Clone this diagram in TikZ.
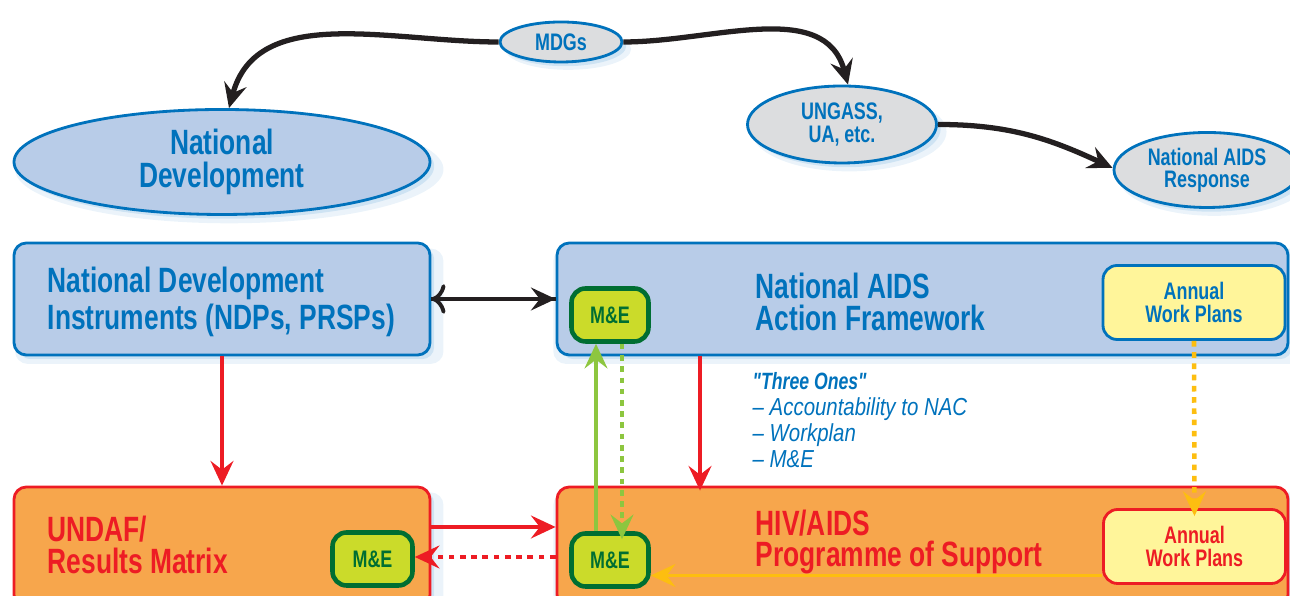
\documentclass[tikz,border=0pt]{standalone}
\usepackage{fontspec}
\setmainfont{Liberation Sans}
\newfontfamily\narrowfont[FakeStretch=0.75]{Liberation Sans}
\newfontfamily\listfont[FakeStretch=0.83]{Liberation Sans}
\usetikzlibrary{arrows.meta,shapes.geometric,shadows}

\definecolor{aidsblue}{RGB}{0,114,188}
\definecolor{paleblue}{RGB}{184,204,232}
\definecolor{greyfill}{RGB}{220,221,223}
\definecolor{aidsorange}{RGB}{247,166,76}
\definecolor{aidsred}{RGB}{237,28,36}
\definecolor{paleyellow}{RGB}{255,245,154}
\definecolor{melime}{RGB}{203,219,42}
\definecolor{medarkgreen}{RGB}{0,110,50}
\definecolor{lightgreen}{RGB}{141,198,63}
\definecolor{golden}{RGB}{253,190,16}
\definecolor{nearblack}{RGB}{35,31,32}
\definecolor{glowblue}{RGB}{90,160,215}

\newcommand{\bigtxt}{\fontsize{10}{8.9}\selectfont}
\newcommand{\smalltxt}{\fontsize{6.8}{6.3}\selectfont}

\tikzset{
	glow/.style={drop shadow={shadow xshift=2pt,shadow yshift=-2pt,opacity=.12,fill=glowblue,shadow scale=1.03},
		drop shadow={shadow xshift=1.2pt,shadow yshift=-1.2pt,opacity=.2,fill=glowblue}},
	goal/.style={ellipse, draw=aidsblue, line width=0.8pt, fill=greyfill, text=aidsblue, inner sep=0pt, align=center, glow, font=\narrowfont\bfseries\smalltxt},
	bluebox/.style={draw=aidsblue, line width=0.8pt, fill=paleblue, rounded corners=3.5pt, glow},
	orangebox/.style={draw=aidsred, line width=0.8pt, fill=aidsorange, rounded corners=3.5pt, glow},
	boxtext/.style={anchor=west, align=left, inner sep=0pt, font=\narrowfont\bfseries\bigtxt},
	plans/.style={fill=paleyellow, line width=0.8pt, rounded corners=4pt, align=center, inner sep=0pt, minimum width=1.82cm, minimum height=0.74cm, font=\narrowfont\bfseries\smalltxt},
	mebox/.style={draw=medarkgreen, line width=1.3pt, fill=melime, text=medarkgreen, rounded corners=4pt, inner sep=0pt, minimum width=0.77cm, minimum height=0.53cm, font=\narrowfont\bfseries\smalltxt},
	tip/.style={-{Stealth[length=7pt,width=6.5pt,inset=2.5pt]}},
	dots/.style={line width=1.3pt, dash pattern=on 1.6pt off 1.6pt},
	curvy/.style={tip, draw=nearblack, line width=1.5pt},
}

\begin{document}
\begin{tikzpicture}[font=\narrowfont\bfseries]
	\useasboundingbox (0,0) rectangle (12.9,-5.96);
	\clip (0,0) rectangle (12.9,-5.96);

	\node[goal, minimum width=1.22cm, minimum height=0.40cm] (mdg) at (5.61,-0.42) {MDGs};
	\node[goal, fill=paleblue, minimum width=4.16cm, minimum height=1.05cm, font=\narrowfont\bfseries\fontsize{10}{9.4}\selectfont] (nd) at (2.22,-1.62) {National\\Development};
	\node[goal, minimum width=1.89cm, minimum height=0.77cm] (ung) at (8.42,-1.245) {UNGASS,\\UA, etc.};
	\node[goal, minimum width=1.86cm, minimum height=0.75cm] (nar) at (12.07,-1.70) {National AIDS\\Response};

	\draw[curvy] (mdg.west) to[out=180, in=75] ([xshift=0.07cm]nd.north);
	\draw[curvy] (mdg.east) to[out=0, in=105] ([xshift=0.06cm]ung.north);
	\draw[curvy] (ung.east) to[out=0, in=155] ([yshift=0.02cm]nar.west);

	\node[bluebox, minimum width=4.16cm, minimum height=1.12cm] (ndi) at (2.22,-2.99) {};
	\node[bluebox, minimum width=7.31cm, minimum height=1.12cm] (naaf) at (9.225,-2.99) {};
	\node[orangebox, minimum width=4.16cm, minimum height=1.20cm] (undaf) at (2.22,-5.47) {};
	\node[orangebox, minimum width=7.31cm, minimum height=1.20cm] (hiv) at (9.225,-5.47) {};

	\node[boxtext, text=aidsblue] (ndit) at (0.47,-3.02) {National Development\\Instruments (NDPs, PRSPs)};
	\node[boxtext, text=aidsblue] (naaft) at (7.55,-3.02) {National AIDS\\Action Framework};
	\node[boxtext, text=aidsred] (undaft) at (0.47,-5.45) {UNDAF/\\Results Matrix};
	\node[boxtext, text=aidsred] (hivt) at (7.55,-5.42) {HIV/AIDS\\Programme of Support};

	\node[plans, draw=aidsblue, text=aidsblue] (awp1) at (11.94,-3.025) {Annual\\Work Plans};
	\node[plans, draw=aidsred, text=aidsred] (awp2) at (11.945,-5.465) {Annual\\Work Plans};

	\node[mebox] (me1) at (6.10,-3.15) {M\&E};
	\node[mebox] (me2) at (6.10,-5.60) {M\&E};
	\node[mebox, minimum width=0.80cm] (me3) at (3.725,-5.59) {M\&E};

	\node[anchor=north west, align=left, inner sep=0pt, text=aidsblue, font=\listfont\itshape\fontsize{7}{7.4}\selectfont] (ones) at (7.52,-3.72) {{\narrowfont\bfseries\fontsize{6.7}{7.4}\selectfont "Three Ones"}\\– Accountability to NAC\\– Workplan\\– M\&E};

	\draw[tip, <-, draw=nearblack, line width=1.1pt] (ndi.east) -- (naaf.west);
	\draw[tip, draw=nearblack, line width=1.1pt] (ndi.east) -- (naaf.west);
	\draw[tip, draw=aidsred, line width=1.1pt] (ndi.south) -- (undaf.north);
	\draw[tip, draw=aidsred, line width=1.1pt] ([xshift=-2.225cm]naaf.south) -- ([xshift=-2.225cm,yshift=-0.05cm]hiv.north);
	\draw[tip, draw=aidsred, line width=1.1pt] ([yshift=0.20cm]undaf.east) -- ([yshift=0.20cm]hiv.west);
	\draw[tip, draw=aidsred, dots] ([yshift=-0.10cm]hiv.west) -- ([yshift=-0.10cm]hiv.west -| me3.east);
	\draw[tip, draw=lightgreen, line width=1.1pt] ([xshift=-0.14cm]me2.north) -- ([xshift=-0.14cm]me1.south);
	\draw[tip, draw=lightgreen, dots] ([xshift=0.12cm]me1.south) -- ([xshift=0.12cm,yshift=-0.08cm]me2.north);
	\draw[tip, draw=golden, dots] (awp1.south) -- ([yshift=-0.08cm]awp2.north);
	\draw[tip, draw=golden, line width=1.1pt] ([yshift=-0.29cm]awp2.west) -- ([yshift=-0.29cm]awp2.west -| me2.east);
\end{tikzpicture}
\end{document}
